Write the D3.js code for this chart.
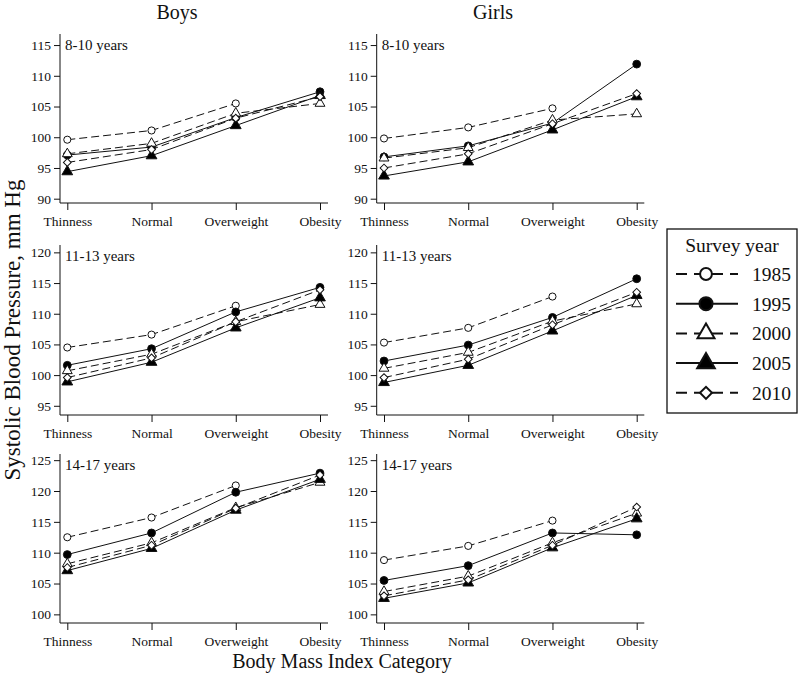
<!DOCTYPE html>
<html><head><meta charset="utf-8">
<script src="https://cdn.jsdelivr.net/npm/d3@7"></script>
<style>body{margin:0;background:#fff}svg{display:block}text{font-family:"Liberation Serif","Times New Roman",serif;fill:#111}</style>
</head><body><svg id="c" width="800" height="675"></svg>
<script>
const categories = ["Thinness","Normal","Overweight","Obesity"];
const years = ["1985","1995","2000","2005","2010"];
const sexes = ["Boys","Girls"];
const ageGroups = ["8-10 years","11-13 years","14-17 years"];
const yTicks = [[90,95,100,105,110,115],[95,100,105,110,115,120],[100,105,110,115,120,125]];
const yDomains = [[89.3,116.8],[93.5,121.2],[98.6,126.0]];

// values per series: [Thinness, Normal, Overweight, Obesity]
const boys8_10 = {
  "1985":[99.6,101.1,105.5,null],
  "1995":[97.1,98.4,103.2,107.4],
  "2000":[97.3,99.0,103.9,105.5],
  "2005":[94.4,97.0,101.9,106.8],
  "2010":[95.9,98.0,103.1,106.6]
};
const girls8_10 = {
  "1985":[99.8,101.6,104.7,null],
  "1995":[96.8,98.6,102.3,111.9],
  "2000":[96.6,98.3,102.8,103.8],
  "2005":[93.7,96.0,101.2,106.6],
  "2010":[95.0,97.3,102.2,107.1]
};
const boys11_13 = {
  "1985":[104.5,106.6,111.3,null],
  "1995":[101.6,104.3,110.3,114.3],
  "2000":[100.7,103.4,108.7,111.5],
  "2005":[98.9,102.1,107.7,112.6],
  "2010":[99.6,102.8,108.7,113.9]
};
const girls11_13 = {
  "1985":[105.3,107.7,112.8,null],
  "1995":[102.3,104.9,109.4,115.7],
  "2000":[101.1,103.7,108.8,111.6],
  "2005":[98.8,101.6,107.2,113.0],
  "2010":[99.6,102.6,108.2,113.5]
};
const boys14_17 = {
  "1985":[112.5,115.7,120.9,null],
  "1995":[109.7,113.2,119.8,122.9],
  "2000":[108.2,111.6,117.3,121.4],
  "2005":[107.1,110.7,116.9,121.9],
  "2010":[107.6,111.2,117.2,122.6]
};
const girls14_17 = {
  "1985":[108.8,111.1,115.2,null],
  "1995":[105.5,107.9,113.2,112.9],
  "2000":[103.7,106.2,111.6,116.4],
  "2005":[102.6,105.1,110.8,115.5],
  "2010":[103.0,105.6,111.2,117.4]
};
const panelData = [[boys8_10,girls8_10],[boys11_13,girls11_13],[boys14_17,girls14_17]];

const styles = {
  "1985":{dash:"8,4", sym:"circle", fill:"#fff", size:40, lsize:110},
  "1995":{dash:null, sym:"circle", fill:"#000", size:48, lsize:135},
  "2000":{dash:"8,4", sym:"triangle", fill:"#fff", size:42, lsize:125},
  "2005":{dash:null, sym:"triangle", fill:"#000", size:50, lsize:135},
  "2010":{dash:"8,4", sym:"diamond", fill:"#fff", size:30, lsize:72}
};
function symPath(type, size){
  if(type==="circle") return d3.symbol(d3.symbolCircle,size)();
  if(type==="triangle") return d3.symbol(d3.symbolTriangle,size)();
  return d3.symbol(d3.symbolSquare,size)();
}

const svg = d3.select("#c");
const colX = [{axis:60, r0:67.3, r1:320, end:328},{axis:376.7, r0:384, r1:636.7, end:644.3}];
const rowY = [{top:34,bottom:203},{top:245,bottom:415},{top:454,bottom:623}];

// titles
svg.append("text").attr("x",177).attr("y",19).attr("text-anchor","middle").style("font-size","20px").text(sexes[0]);
svg.append("text").attr("x",493).attr("y",19).attr("text-anchor","middle").style("font-size","20px").text(sexes[1]);
svg.append("text").attr("transform","translate(20,330) rotate(-90)").attr("text-anchor","middle").style("font-size","23px").text("Systolic Blood Pressure, mm Hg");
svg.append("text").attr("x",342).attr("y",668).attr("text-anchor","middle").style("font-size","20px").text("Body Mass Index Category");

rowY.forEach((ry,ri)=>{
  colX.forEach((cx,ci)=>{
    const g = svg.append("g");
    const x = d3.scalePoint().domain(categories).range([cx.r0,cx.r1]);
    const y = d3.scaleLinear().domain(yDomains[ri]).range([ry.bottom,ry.top]);
    // y axis
    const ya = g.append("g").attr("transform",`translate(${cx.axis},0)`)
      .call(d3.axisLeft(y).tickValues(yTicks[ri]).tickSize(6).tickPadding(3).tickSizeOuter(0));
    ya.select(".domain").attr("d",`M0,${ry.top}V${ry.bottom}`);
    // x axis
    const xa = g.append("g").attr("transform",`translate(0,${ry.bottom})`)
      .call(d3.axisBottom(x).tickSize(7).tickPadding(6));
    xa.select(".domain").attr("d",`M${cx.axis},0H${cx.end}`);
    g.selectAll(".tick text").style("font-size","13.5px").style("font-family",'"Liberation Serif",serif').attr("fill","#111");
    g.selectAll(".domain, .tick line").attr("stroke","#111");
    // panel label
    g.append("text").attr("x",cx.axis+5).attr("y",ry.top+16).style("font-size","15px").text(ageGroups[ri]);
    const data = panelData[ri][ci];
    years.forEach(yr=>{
      const st = styles[yr];
      const pts = categories.map((c,i)=>({c,v:data[yr][i]})).filter(d=>d.v!=null);
      const line = d3.line().x(d=>x(d.c)).y(d=>y(d.v));
      g.append("path").attr("d",line(pts)).attr("fill","none").attr("stroke","#111").attr("stroke-width",1)
        .attr("stroke-dasharray",st.dash);
    });
    years.forEach(yr=>{
      const st = styles[yr];
      const pts = categories.map((c,i)=>({c,v:data[yr][i]})).filter(d=>d.v!=null);
      g.selectAll(null).data(pts).enter().append("path")
        .attr("d",symPath(st.sym,st.size))
        .attr("transform",d=>`translate(${x(d.c)},${y(d.v)})`+(st.sym==="diamond"?" rotate(45)":""))
        .attr("fill",st.fill).attr("stroke","#111").attr("stroke-width",1);
    });
  });
});

// legend
const lg = svg.append("g");
lg.append("rect").attr("x",667).attr("y",229).attr("width",130).attr("height",184).attr("fill","#fff").attr("stroke","#111").attr("stroke-width",1.3);
lg.append("text").attr("x",732).attr("y",252).attr("text-anchor","middle").style("font-size","19.5px").text("Survey year");
years.forEach((yr,i)=>{
  const st = styles[yr];
  const yy = 274 + i*29.7;
  lg.append("line").attr("x1",676).attr("x2",738).attr("y1",yy).attr("y2",yy).attr("stroke","#111").attr("stroke-width",2)
    .attr("stroke-dasharray",st.dash?"11,7":null);
  lg.append("path").attr("d",symPath(st.sym,st.lsize))
    .attr("transform",`translate(706,${yy})`+(st.sym==="diamond"?" rotate(45)":""))
    .attr("fill",st.fill).attr("stroke","#111").attr("stroke-width",2);
  lg.append("text").attr("x",752).attr("y",yy+7).style("font-size","19.5px").text(yr);
});
</script></body></html>
